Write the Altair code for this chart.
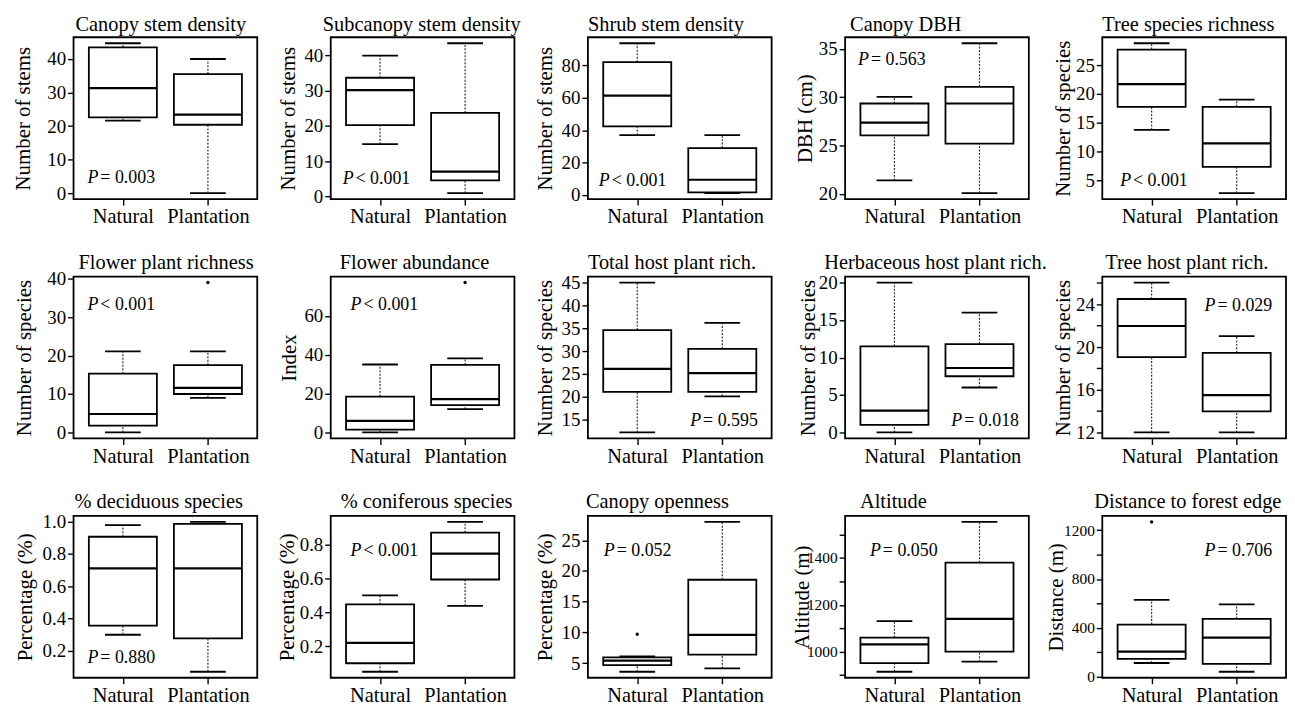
import json
import altair as alt
import pandas as pd

groups = ["Natural", "Plantation"]

titles = [
    "Canopy stem density", "Subcanopy  stem density", "Shrub  stem density", "Canopy DBH", "Tree species richness",
    "Flower plant richness", "Flower abundance", "Total host plant rich.", "Herbaceous host plant rich.", "Tree host plant rich.",
    "% deciduous  species", "% coniferous species", "Canopy openness", "Altitude", "Distance to forest edge",
]
y_titles = [
    "Number of stems", "Number of stems", "Number of stems", "DBH (cm)", "Number of species",
    "Number of species", "Index", "Number of species", "Number of species", "Number of species",
    "Percentage (%)", "Percentage (%)", "Percentage (%)", "Altitude  (m)", "Distance (m)",
]

# five-number summaries: [min, Q1, median, Q3, max]
natural = [
    [21.6, 22.6, 31.3, 43.5, 44.7],
    [14.8, 20.2, 30.2, 33.7, 40.0],
    [36.9, 42.3, 61.4, 82.1, 93.8],
    [21.39, 26.06, 27.38, 29.35, 30.04],
    [13.75, 17.75, 21.7, 27.7, 28.8],
    [0.0, 1.8, 4.8, 15.3, 21.1],
    [0.0, 1.4, 6.0, 18.5, 35.0],
    [12.2, 21.1, 26.1, 34.6, 45.0],
    [0.0, 1.0, 2.9, 11.5, 20.0],
    [12.0, 19.05, 21.97, 24.5, 26.04],
    [0.299, 0.355, 0.709, 0.905, 0.977],
    [0.05, 0.10, 0.22, 0.446, 0.499],
    [3.58, 4.67, 5.38, 5.93, 6.09],
    [914, 951, 1031, 1060, 1130],
    [110, 143, 203, 426, 629],
]
plantation = [
    [0.0, 20.4, 23.4, 35.5, 40.0],
    [0.9, 4.5, 7.0, 23.7, 43.5],
    [1.0, 1.5, 9.3, 28.9, 36.9],
    [20.07, 25.2, 29.35, 31.08, 35.59],
    [2.75, 7.3, 11.4, 17.75, 19.0],
    [9.0, 10.0, 11.6, 17.5, 21.1],
    [12.0, 14.1, 17.2, 34.8, 38.2],
    [20.1, 21.1, 25.2, 30.5, 36.2],
    [6.0, 7.5, 8.6, 11.8, 16.0],
    [12.0, 13.97, 15.5, 19.46, 21.03],
    [0.070, 0.276, 0.709, 0.985, 0.997],
    [0.438, 0.593, 0.745, 0.869, 0.932],
    [4.13, 6.36, 9.58, 18.57, 28.0],
    [957, 1000, 1140, 1380, 1554],
    [38, 102, 319, 473, 591],
]
# outliers: (panel, group index, value)
outlier_panel = [5, 6, 12, 14]
outlier_group = [1, 1, 0, 0]
outlier_value = [39.0, 77.2, 9.69, 1269]

p_values = ["= 0.003", "< 0.001", "< 0.001", "= 0.563", "< 0.001",
            "< 0.001", "< 0.001", "= 0.595", "= 0.018", "= 0.029",
            "= 0.880", "< 0.001", "= 0.052", "= 0.050", "= 0.706"]

y_ticks = [
    [0, 10, 20, 30, 40], [0, 10, 20, 30, 40], [0, 20, 40, 60, 80], [20, 25, 30, 35], [5, 10, 15, 20, 25],
    [0, 10, 20, 30, 40], [0, 20, 40, 60], [15, 20, 25, 30, 35, 40, 45], [0, 5, 10, 15, 20],
    [12, 14, 16, 18, 20, 22, 24, 26],
    [0.2, 0.4, 0.6, 0.8, 1.0], [0.2, 0.4, 0.6, 0.8], [5, 10, 15, 20, 25],
    [900, 1000, 1100, 1200, 1300, 1400, 1500], [0, 200, 400, 600, 800, 1000, 1200],
]
y_tick_labels = {9: [12, 16, 20, 24], 13: [1000, 1200, 1400], 14: [0, 400, 800, 1200]}

# layout (pixels relative to plot area)
title_dx = [2, -8, 0, 5, 0, 5, 9, 0, -21, 3, 1, 10, -2, 15, -8]
title_dy = [-6, -6, -6, -6, -6, -8, -8, -8, -8, -8, -8, -8, -8, -8, -8]
ytitle_x = [-50, -42, -43, -40, -39, -49, -41, -43, -37, -39, -48, -43, -43, -43, -46]
p_pos = [(14, 142), (12, 143), (11, 145), (13, 23), (18, 145),
         (14, 29), (20, 29), (103, 145), (107, 145), (103, 30),
         (14, 143), (20, 35), (16, 35), (25, 35), (103, 35)]

FONT = "Liberation Serif"
W, H = 185, 163


def panel(i):
    n, p = natural[i], plantation[i]
    df = pd.DataFrame({
        "pos": [1, 2],
        "lo": [n[0], p[0]], "q1": [n[1], p[1]], "med": [n[2], p[2]],
        "q3": [n[3], p[3]], "hi": [n[4], p[4]],
    })
    outs = [(outlier_group[k] + 1, outlier_value[k]) for k in range(len(outlier_panel)) if outlier_panel[k] == i]
    vals = n + p + [v for _, v in outs]
    lo, hi = min(vals), max(vals)
    pad = 0.04 * (hi - lo)
    ysc = alt.Scale(domain=[lo - pad, hi + pad], nice=False, zero=False)
    xsc = alt.Scale(domain=[0.42, 2.58], nice=False, zero=False)

    xax = alt.Axis(values=[1, 2], title=None,
                   labelExpr=f"datum.value == 1 ? '{groups[0]}' : '{groups[1]}'",
                   labelFontSize=20.5, labelPadding=2)
    yargs = dict(values=y_ticks[i], title=y_titles[i], titleX=ytitle_x[i], titleBaseline="middle",
                 titleFontSize=21, labelFontSize=15.5 if i in (13, 14) else 19, labelPadding=2)
    if i in y_tick_labels:
        yargs["labelExpr"] = f"indexof({json.dumps(y_tick_labels[i])}, datum.value) >= 0 ? datum.label : ''"
        yargs["format"] = "d"
    if i in (10, 11):
        yargs["format"] = ".1f"
    yax = alt.Axis(**yargs)

    base = alt.Chart(df).transform_calculate(
        xl="datum.pos - 0.4", xr="datum.pos + 0.4",
        cl="datum.pos - 0.21", cr="datum.pos + 0.21",
    )
    whisk_lo = base.mark_rule(strokeDash=[2, 1.5], strokeWidth=1.2, color="#333").encode(
        x=alt.X("pos:Q", scale=xsc, axis=xax), y=alt.Y("lo:Q", scale=ysc, axis=yax), y2="q1:Q")
    whisk_hi = base.mark_rule(strokeDash=[2, 1.5], strokeWidth=1.2, color="#333").encode(
        x=alt.X("pos:Q", scale=xsc, axis=xax), y=alt.Y("q3:Q", scale=ysc, axis=yax), y2="hi:Q")
    box = base.mark_rect(fill="white", stroke="black", strokeWidth=1.8).encode(
        x=alt.X("xl:Q", scale=xsc, axis=xax), x2="xr:Q",
        y=alt.Y("q1:Q", scale=ysc, axis=yax), y2="q3:Q")
    med = base.mark_rule(color="black", strokeWidth=2.2).encode(
        x=alt.X("xl:Q", scale=xsc, axis=xax), x2="xr:Q", y=alt.Y("med:Q", scale=ysc, axis=yax))
    cap_lo = base.mark_rule(color="black", strokeWidth=1.8).encode(
        x=alt.X("cl:Q", scale=xsc, axis=xax), x2="cr:Q", y=alt.Y("lo:Q", scale=ysc, axis=yax))
    cap_hi = base.mark_rule(color="black", strokeWidth=1.8).encode(
        x=alt.X("cl:Q", scale=xsc, axis=xax), x2="cr:Q", y=alt.Y("hi:Q", scale=ysc, axis=yax))
    layers = [whisk_lo, whisk_hi, box, med, cap_lo, cap_hi]
    if outs:
        odf = pd.DataFrame({"pos": [o[0] for o in outs], "v": [o[1] for o in outs]})
        layers.append(alt.Chart(odf).mark_circle(color="black", size=12, opacity=1).encode(
            x=alt.X("pos:Q", scale=xsc, axis=xax), y=alt.Y("v:Q", scale=ysc, axis=yax)))
    px, py = p_pos[i]
    tdf = pd.DataFrame({"t": [p_values[i]], "title": [titles[i]]})
    layers.append(alt.Chart(tdf).mark_text(text="P", font=FONT, fontSize=18, fontStyle="italic",
                                            align="left", baseline="middle").encode(
        x=alt.value(px), y=alt.value(py)))
    layers.append(alt.Chart(tdf).mark_text(font=FONT, fontSize=18, align="left", baseline="middle").encode(
        text="t:N", x=alt.value(px + 13), y=alt.value(py)))
    layers.append(alt.Chart(tdf).mark_text(font=FONT, fontSize=20.5, align="left", baseline="alphabetic",
                                            color="black").encode(
        text="title:N", x=alt.value(title_dx[i]), y=alt.value(title_dy[i])))
    return alt.layer(*layers).properties(width=W, height=H)


chart = alt.concat(*[panel(i) for i in range(15)], columns=5,
                   spacing={"row": 78, "column": 74}, bounds="flush").properties(
    padding={"left": 4, "top": 4, "right": 0, "bottom": 0}
).configure_view(stroke="black", strokeWidth=1.8).configure_axis(
    grid=False, domain=False, tickColor="black", tickWidth=1.4, tickSize=6,
    labelColor="black", titleColor="black", labelFont=FONT, titleFont=FONT,
    titleFontWeight="normal",
)

chart.save("out.html", embed_options={"renderer": "svg", "actions": False})
